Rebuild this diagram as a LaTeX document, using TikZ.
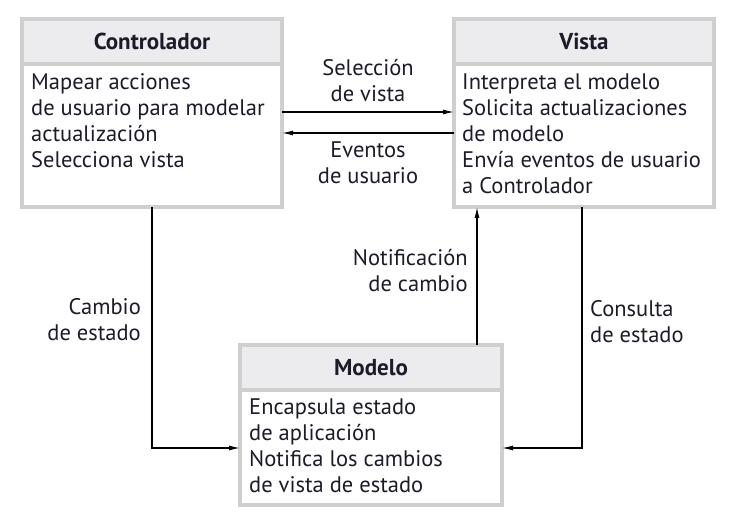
\documentclass[tikz,border=0pt]{standalone}
\usepackage{fontspec}
\setmainfont{PT Sans}
\usetikzlibrary{arrows.meta,calc}
\definecolor{bordergray}{HTML}{CFCFCF}
\definecolor{headgray}{HTML}{ECECEF}
\definecolor{inktext}{HTML}{1C1C28}
\tikzset{
  boxframe/.style={draw=bordergray, line width=3.5pt, fill=white, minimum width=#1, outer sep=0pt, inner sep=0pt},
  headfill/.style={draw=bordergray, line width=3.5pt, fill=headgray},
  headtext/.style={font=\fontsize{23}{26}\selectfont\bfseries, text=inktext, inner sep=0pt},
  bodytext/.style={font=\fontsize{22.5}{26}\selectfont, text=inktext, align=left, inner sep=0pt, anchor=base west},
  lbl/.style={font=\fontsize{22.5}{26}\selectfont, text=inktext, inner sep=0pt},
  conn/.style={line width=1.2pt, -{Latex[length=11pt,width=5pt]}}
}
\begin{document}
\begin{tikzpicture}[x=1pt,y=-1pt]
\useasboundingbox[fill=white] (0,0) rectangle (734,526);
% boxes
\node[boxframe=260, minimum height=188] (ctrl) at (152,113) {};
\node[boxframe=260, minimum height=188] (vista) at (584,113) {};
\node[boxframe=262, minimum height=160] (modelo) at (371,425) {};
% headers
\draw[headfill] (ctrl.north west) rectangle ($(ctrl.north east)+(0,45)$);
\draw[headfill] (vista.north west) rectangle ($(vista.north east)+(0,45)$);
\draw[headfill] (modelo.north west) rectangle ($(modelo.north east)+(0,45)$);
\node[headtext, anchor=base] (ctrlh) at (152,50) {Controlador};
\node[headtext, anchor=base] (vistah) at (584,50) {Vista};
\node[headtext, anchor=base] (modeloh) at (371,376) {Modelo};
% body texts (anchor = baseline of last line)
\node[bodytext] (ctrlb) at (31,168) {Mapear acciones\\de usuario para modelar\\actualización\\Selecciona vista};
\node[bodytext] (vistab) at (462,194) {Interpreta el modelo\\Solicita actualizaciones\\de modelo\\Envía eventos de usuario\\a Controlador};
\node[bodytext] (modelob) at (249,493) {Encapsula estado\\de aplicación\\Notifica los cambios\\de vista de estado};
% connectors
\draw[conn] ($(ctrl.east)+(0,-1)$) -- ($(vista.west)+(0,-1)$);
\draw[conn] ($(vista.west)+(0,20)$) -- ($(ctrl.east)+(0,20)$);
\coordinate (cbend) at (152,448);
\coordinate (qbend) at (582,448);
\draw[conn] (ctrl.south) -- (cbend) -- (modelo.west |- cbend);
\draw[conn] (vista.south -| qbend) -- (qbend) -- (modelo.east |- qbend);
\draw[conn] (modelo.north -| 477,0) -- (vista.south -| 477,0);
% labels (anchor = baseline of last line)
\node[lbl, align=center, anchor=base] (lsel) at (368,102) {Selección\\de vista};
\node[lbl, align=center, anchor=base] (lev) at (368,184) {Eventos\\de usuario};
\node[lbl, align=right, anchor=base east] (lnot) at (468,292) {Notificación\\de cambio};
\node[lbl, align=right, anchor=base east] (lcam) at (141,341) {Cambio\\de estado};
\node[lbl, align=left, anchor=base west] (lcon) at (590,343) {Consulta\\de estado};
\end{tikzpicture}
\end{document}
